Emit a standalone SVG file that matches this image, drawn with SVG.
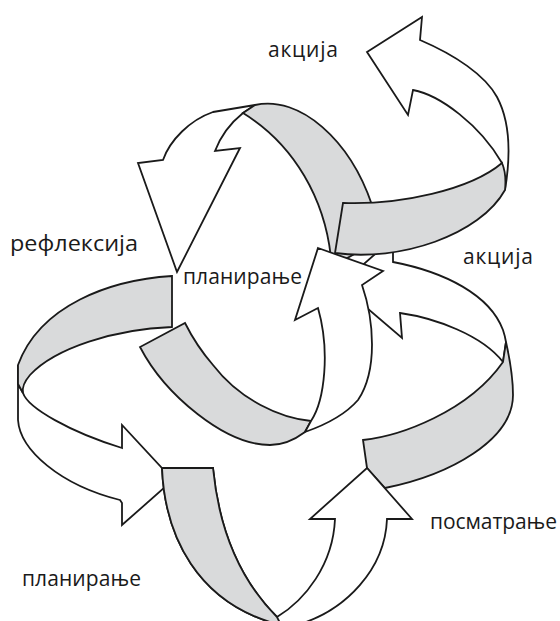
<svg xmlns="http://www.w3.org/2000/svg" width="560" height="621" viewBox="0 0 560 621">
<style>
.w{fill:#fff;stroke:#1a1a1a;stroke-width:1.8;stroke-linejoin:miter}
.g{fill:#d9dadb;stroke:#1a1a1a;stroke-width:1.8;stroke-linejoin:miter}
.t{font-family:"Open Sans","Noto Sans","DejaVu Sans",sans-serif;font-size:21px;fill:#1a1a1a}
</style>
<rect width="560" height="621" fill="#fff"/>
<g id="connectors">
<g id="loop-right">
<path class="w" d="M393,248 L382,248 L340,285 L402,338 L400,313 C435,318 482,335 503,362 L506,342 C505,336 504,333 503,330 C490,295 445,272 393,262 Z"/>
<path class="g" d="M363,440 C400,436 468,412 503,362 L506,342 C510,360 513,375 513,395 C513,440 450,475 385,488 L367,468 Z"/>
</g>
<g id="loop-left">
<path class="w" d="M18,365 L18,420 C20,450 60,485 120,500 L122,503 L122,525 L173,480 L122,425 L122,448 C70,432 28,408 23,393 L18,384 Z"/>
<path class="g" d="M172,276 C110,280 40,305 18,365 L18,384 L23,393 C22,388 24,382 30,375 C55,348 115,329 172,327 Z"/>
</g>
<g id="loop-bottom">
<path class="w" d="M162,468 C165,540 200,600 270,622 C280,625 292,625 300,624 C345,610 385,570 387,519 L412,519 L367,468 L310,519 L335,519 C333,565 305,600 277,617 C235,575 218,520 213,468 Z"/>
<path class="g" d="M162,468 L213,468 C218,520 235,575 277,617 L281,625 C276,624 273,623 270,622 C200,600 165,540 162,468 Z"/>
</g>
<g id="loop-upper">
<path class="w" d="M255,105 L213,112 C190,120 170,140 163,160 L138,163 L177,272 L240,148 L215,151 C220,138 228,125 243,113 Z"/>
<path class="g" d="M243,113 L255,105 C300,95 350,140 372,205 L380,240 L340,262 L331,258 C325,200 295,145 243,113 Z"/>
</g>
<g id="loop-top-right">
<path class="w" d="M505,190 C510,160 512,125 497,97 C485,75 455,55 420,40 L422,17 L367,52 L408,115 L413,90 C440,95 480,125 502,163 Z"/>
<path class="g" d="M343,203 C400,205 470,190 502,163 C505,170 506,180 505,190 C480,235 400,262 335,253 Z"/>
</g>
<g id="loop-center">
<path class="g" d="M140,347 C165,395 225,445 270,445 C285,445 297,438 305,432 L311,421 C280,418 240,400 213,365 C200,350 192,337 185,323 Z"/>
<path class="w" d="M318,248 L383,271 L362,285 C374,320 378,370 358,400 C345,415 325,425 305,432 L311,421 C325,400 330,350 318,308 L295,320 Z"/>
</g>
</g>
<g id="label-akcija-top"><text class="t" x="268" y="57" textLength="70" lengthAdjust="spacing">акција</text></g>
<g id="label-refleksija"><text class="t" x="10" y="251" style="font-size:22px" textLength="128" lengthAdjust="spacingAndGlyphs">рефлексија</text></g>
<g id="label-planiranje-center"><text class="t" x="183" y="284" textLength="119" lengthAdjust="spacing">планирање</text></g>
<g id="label-akcija-right"><text class="t" x="463" y="264" textLength="70" lengthAdjust="spacing">акција</text></g>
<g id="label-posmatranje"><text class="t" x="430" y="529" textLength="127" lengthAdjust="spacing">посматрање</text></g>
<g id="label-planiranje-bottom"><text class="t" x="22" y="586" textLength="119" lengthAdjust="spacing">планирање</text></g>
</svg>
